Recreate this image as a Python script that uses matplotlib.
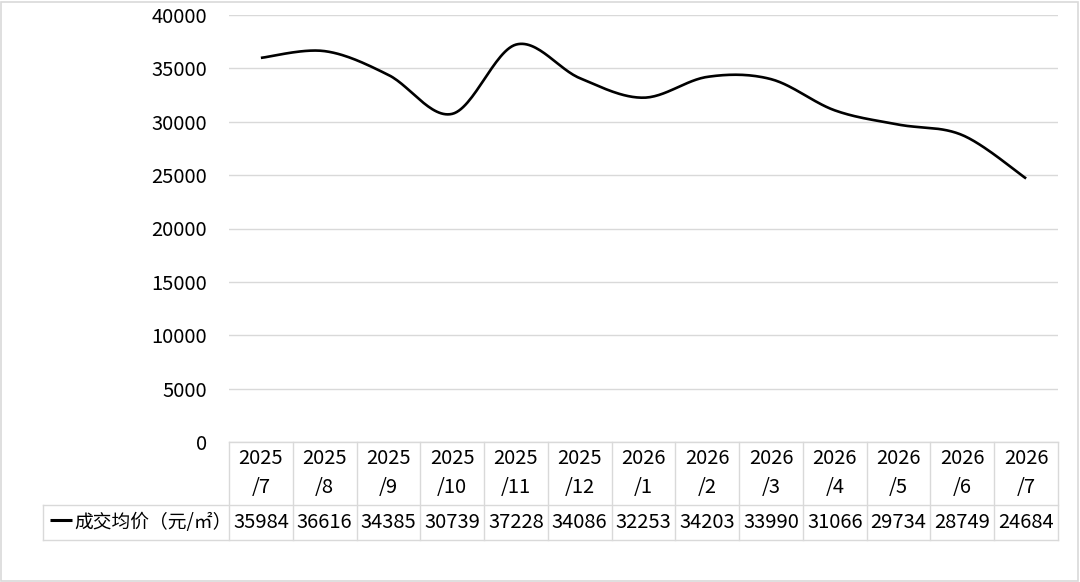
import numpy as np
import matplotlib
matplotlib.use("Agg")
import matplotlib.pyplot as plt
import matplotlib.transforms as mtransforms
from matplotlib.patches import Rectangle

plt.rcParams['font.family'] = ['Noto Sans CJK SC', 'DejaVu Sans']

categories = ["2025\n/7", "2025\n/8", "2025\n/9", "2025\n/10", "2025\n/11", "2025\n/12",
              "2026\n/1", "2026\n/2", "2026\n/3", "2026\n/4", "2026\n/5", "2026\n/6", "2026\n/7"]
values = [35984, 36616, 34385, 30739, 37228, 34086, 32253, 34203, 33990, 31066, 29734, 28749, 24684]
series_name = "成交均价（元/㎡）"
yticks = [0, 5000, 10000, 15000, 20000, 25000, 30000, 35000, 40000]

W, H = 1080, 582
fig = plt.figure(figsize=(W / 100, H / 100), dpi=100)
fig.patch.set_facecolor("white")
fig.patches.append(Rectangle((0.001, 0.002), 0.997, 0.995, transform=fig.transFigure,
                             fill=False, edgecolor="#d9d9d9", linewidth=1.2))

FS = 14.5
L, R, T, B = 229, 1058, 15, 442
ax = fig.add_axes([L / W, 1 - B / H, (R - L) / W, (B - T) / H])
n = len(values)
ax.set_xlim(-0.5, n - 0.5)
ax.set_ylim(0, 40000)
ax.set_yticks(yticks)
ax.set_yticklabels([str(v) for v in yticks], fontsize=FS)
ax.tick_params(axis='y', length=0, pad=16)
ax.set_xticks([])
for s in ax.spines.values():
    s.set_visible(False)
ax.grid(axis='y', color="#d9d9d9", linewidth=1.0)
ax.set_axisbelow(True)

# smooth curve (Catmull-Rom style, like Excel smoothed line)
x = np.arange(n, dtype=float)
y = np.array(values, dtype=float)
P = np.column_stack([x, y])
Pp = np.vstack([P[0], P, P[-1]])
xs, ys = [], []
t = np.linspace(0, 1, 30)
for i in range(n - 1):
    p0, p1, p2, p3 = Pp[i], Pp[i + 1], Pp[i + 2], Pp[i + 3]
    c1 = p1 + (p2 - p0) / 6
    c2 = p2 - (p3 - p1) / 6
    for tt in t:
        pt = ((1 - tt) ** 3) * p1 + 3 * ((1 - tt) ** 2) * tt * c1 + 3 * (1 - tt) * tt ** 2 * c2 + tt ** 3 * p2
        xs.append(pt[0]); ys.append(pt[1])
ax.plot(xs, ys, color="black", linewidth=1.9, solid_capstyle="butt", zorder=3)

# data table
ah = B - T
hdr_b = -(505 - B) / ah
val_b = -(540 - B) / ah
px_per_x = (R - L) / n
leg_left = -0.5 - (L - 43) / px_per_x
trans = mtransforms.blended_transform_factory(ax.transData, ax.transAxes)
gc = "#d9d9d9"
kw = dict(color=gc, linewidth=1.0, transform=trans, clip_on=False)
ax.plot([-0.5, n - 0.5], [0, 0], **kw)
ax.plot([leg_left, n - 0.5], [hdr_b, hdr_b], **kw)
ax.plot([leg_left, n - 0.5], [val_b, val_b], **kw)
for i in range(n + 1):
    ax.plot([i - 0.5, i - 0.5], [0, val_b], **kw)
ax.plot([leg_left, leg_left], [hdr_b, val_b], **kw)

for i, (c, v) in enumerate(zip(categories, values)):
    ax.text(i, hdr_b / 2, c, transform=trans, ha='center', va='center', fontsize=FS,
            linespacing=1.5, clip_on=False)
    ax.text(i, (hdr_b + val_b) / 2, str(v), transform=trans, ha='center', va='center',
            fontsize=FS, clip_on=False)

legx0 = leg_left + 7 / px_per_x
legx1 = leg_left + 29 / px_per_x
ym = (hdr_b + val_b) / 2
ax.plot([legx0, legx1], [ym + 0.005, ym + 0.005], color="black", linewidth=2.2,
        transform=trans, clip_on=False, solid_capstyle="butt")
ax.text(legx1 + 2 / px_per_x, ym, series_name, transform=trans, ha='left', va='center',
        fontsize=13.5, clip_on=False)

fig.savefig("out.png", dpi=100, facecolor="white")
